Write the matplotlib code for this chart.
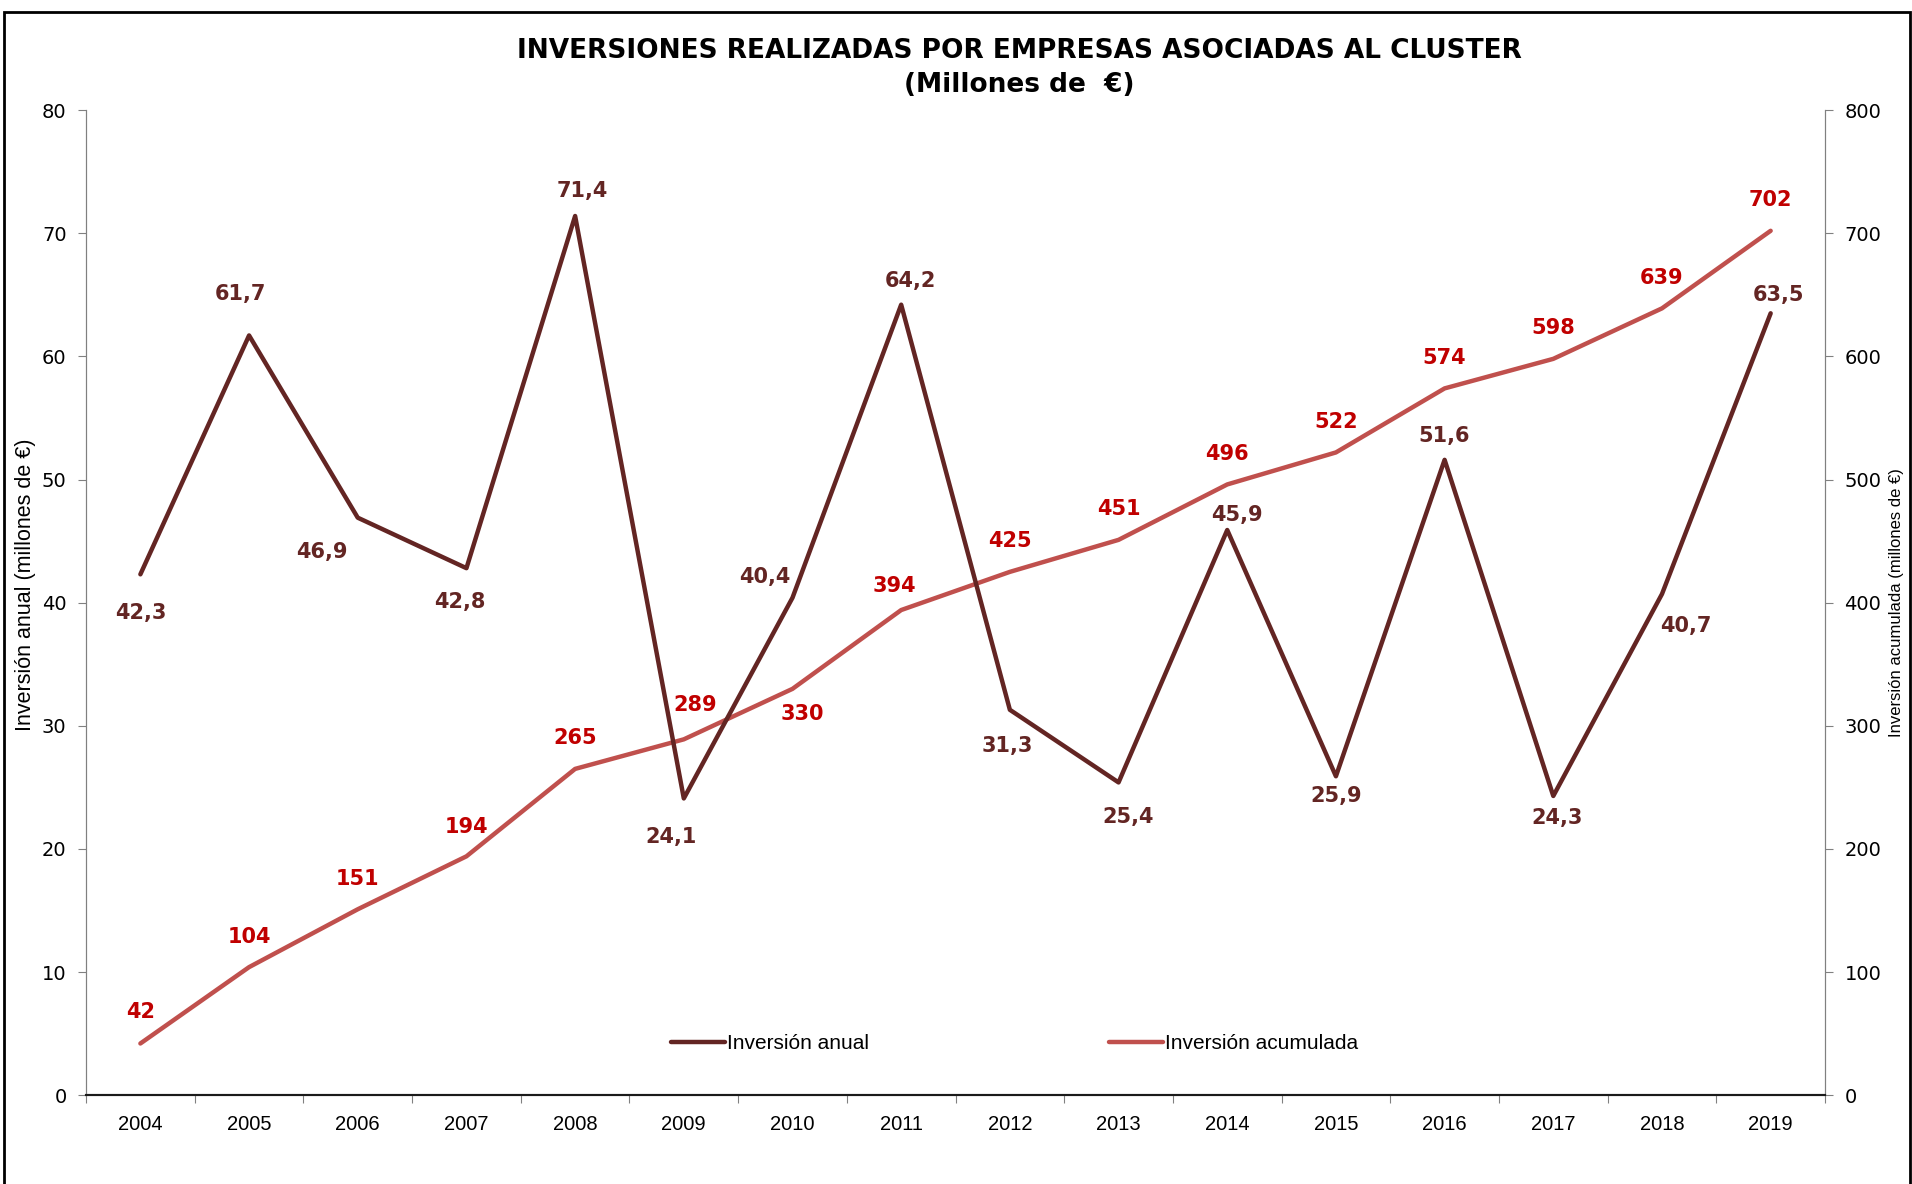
import matplotlib
matplotlib.use("Agg")
import matplotlib.pyplot as plt
from matplotlib.patches import Rectangle

years = ["2004", "2005", "2006", "2007", "2008", "2009", "2010", "2011",
         "2012", "2013", "2014", "2015", "2016", "2017", "2018", "2019"]
anual = [42.3, 61.7, 46.9, 42.8, 71.4, 24.1, 40.4, 64.2, 31.3, 25.4, 45.9, 25.9, 51.6, 24.3, 40.7, 63.5]
acumulada = [42, 104, 151, 194, 265, 289, 330, 394, 425, 451, 496, 522, 574, 598, 639, 702]
left_ticks = [0, 10, 20, 30, 40, 50, 60, 70, 80]
right_ticks = [0, 100, 200, 300, 400, 500, 600, 700, 800]

c_anual = "#632523"
c_acum = "#C0504D"
c_acum_lbl = "#C00000"

fig = plt.figure(figsize=(19.12, 11.84), dpi=100)
ax = fig.add_axes([0.045, 0.075, 0.9095, 0.832])
ax2 = ax.twinx()

x = list(range(len(years)))
l1, = ax.plot(x, anual, color=c_anual, lw=3.2, solid_capstyle="round", zorder=3)
l2, = ax2.plot(x, acumulada, color=c_acum, lw=3.2, solid_capstyle="round", zorder=2)
ax.set_zorder(ax2.get_zorder() + 1)
ax.patch.set_visible(False)

ax.set_xlim(-0.5, len(years) - 0.5)
ax.set_ylim(0, 80)
ax2.set_ylim(0, 800)
ax.set_yticks(left_ticks)
ax2.set_yticks(right_ticks)
ax.set_xticks([i - 0.5 for i in range(len(years) + 1)])
ax.set_xticklabels([])
ax.set_xticks(x, minor=True)
ax.set_xticklabels(years, minor=True, fontsize=14.5, family="Liberation Sans")
ax.tick_params(axis="x", which="minor", length=0, pad=14)
ax.tick_params(axis="x", which="major", length=6, color="#808080", direction="out")
ax.tick_params(axis="y", length=6, color="#808080", labelsize=14, pad=8)
ax2.tick_params(axis="y", length=6, color="#808080", labelsize=14, pad=8)
for a in (ax, ax2):
    a.spines["top"].set_visible(False)
    a.spines["left"].set_color("#808080")
    a.spines["right"].set_color("#808080")
    a.spines["bottom"].set_color("#1a1a1a")
    a.spines["bottom"].set_linewidth(1.5)

ax.set_ylabel("Inversión anual (millones de €)", fontsize=15.5, family="Liberation Sans")
ax.yaxis.set_label_coords(-0.029, 0.518)
ax2.set_ylabel("Inversión acumulada (millones de €)", fontsize=12, family="Liberation Sans")
ax2.yaxis.set_label_coords(1.037, 0.5)

# label offsets in points
anual_off = [(0, -28), (-6, 30), (-26, -25), (-5, -24), (5, 18), (-9, -28), (-20, 15), (7, 17),
             (-2, -26), (7, -25), (7, 11), (0, -14), (0, 17), (3, -16), (17, -23), (6, 13)]
acum_off = [(0, 23), (0, 22), (0, 22), (0, 21), (0, 22), (8, 25), (7, -18), (-5, 17),
            (0, 22), (0, 22), (0, 22), (0, 22), (0, 22), (0, 22), (0, 22), (0, 22)]

for i, (v, off) in enumerate(zip(anual, anual_off)):
    ax.annotate(f"{v:.1f}".replace(".", ","), (i, v), xytext=off, textcoords="offset points",
                ha="center", va="center", fontsize=15, fontweight="bold", color=c_anual,
                family="DejaVu Sans")
for i, (v, off) in enumerate(zip(acumulada, acum_off)):
    ax2.annotate(f"{v}", (i, v), xytext=off, textcoords="offset points",
                 ha="center", va="center", fontsize=15, fontweight="bold", color=c_acum_lbl,
                 family="DejaVu Sans")

leg = ax.legend([l1, l2], ["Inversión anual", "Inversión acumulada"], loc="center",
                bbox_to_anchor=(0.534, 0.052), ncol=2, frameon=False, columnspacing=11.5,
                handlelength=2.6, handletextpad=0.1, prop={"family": "Liberation Sans", "size": 15})

fig.text(0.533, 0.957, "INVERSIONES REALIZADAS POR EMPRESAS ASOCIADAS AL CLUSTER",
         ha="center", va="center", fontsize=19, fontweight="bold", family="DejaVu Sans")
fig.text(0.533, 0.928, "(Millones de  €)", ha="center", va="center", fontsize=19,
         fontweight="bold", family="DejaVu Sans")

fig.patches.append(Rectangle((0.002, -0.05), 0.997, 1.04, transform=fig.transFigure,
                             fill=False, edgecolor="black", lw=2))

fig.savefig("out.png", dpi=100)
